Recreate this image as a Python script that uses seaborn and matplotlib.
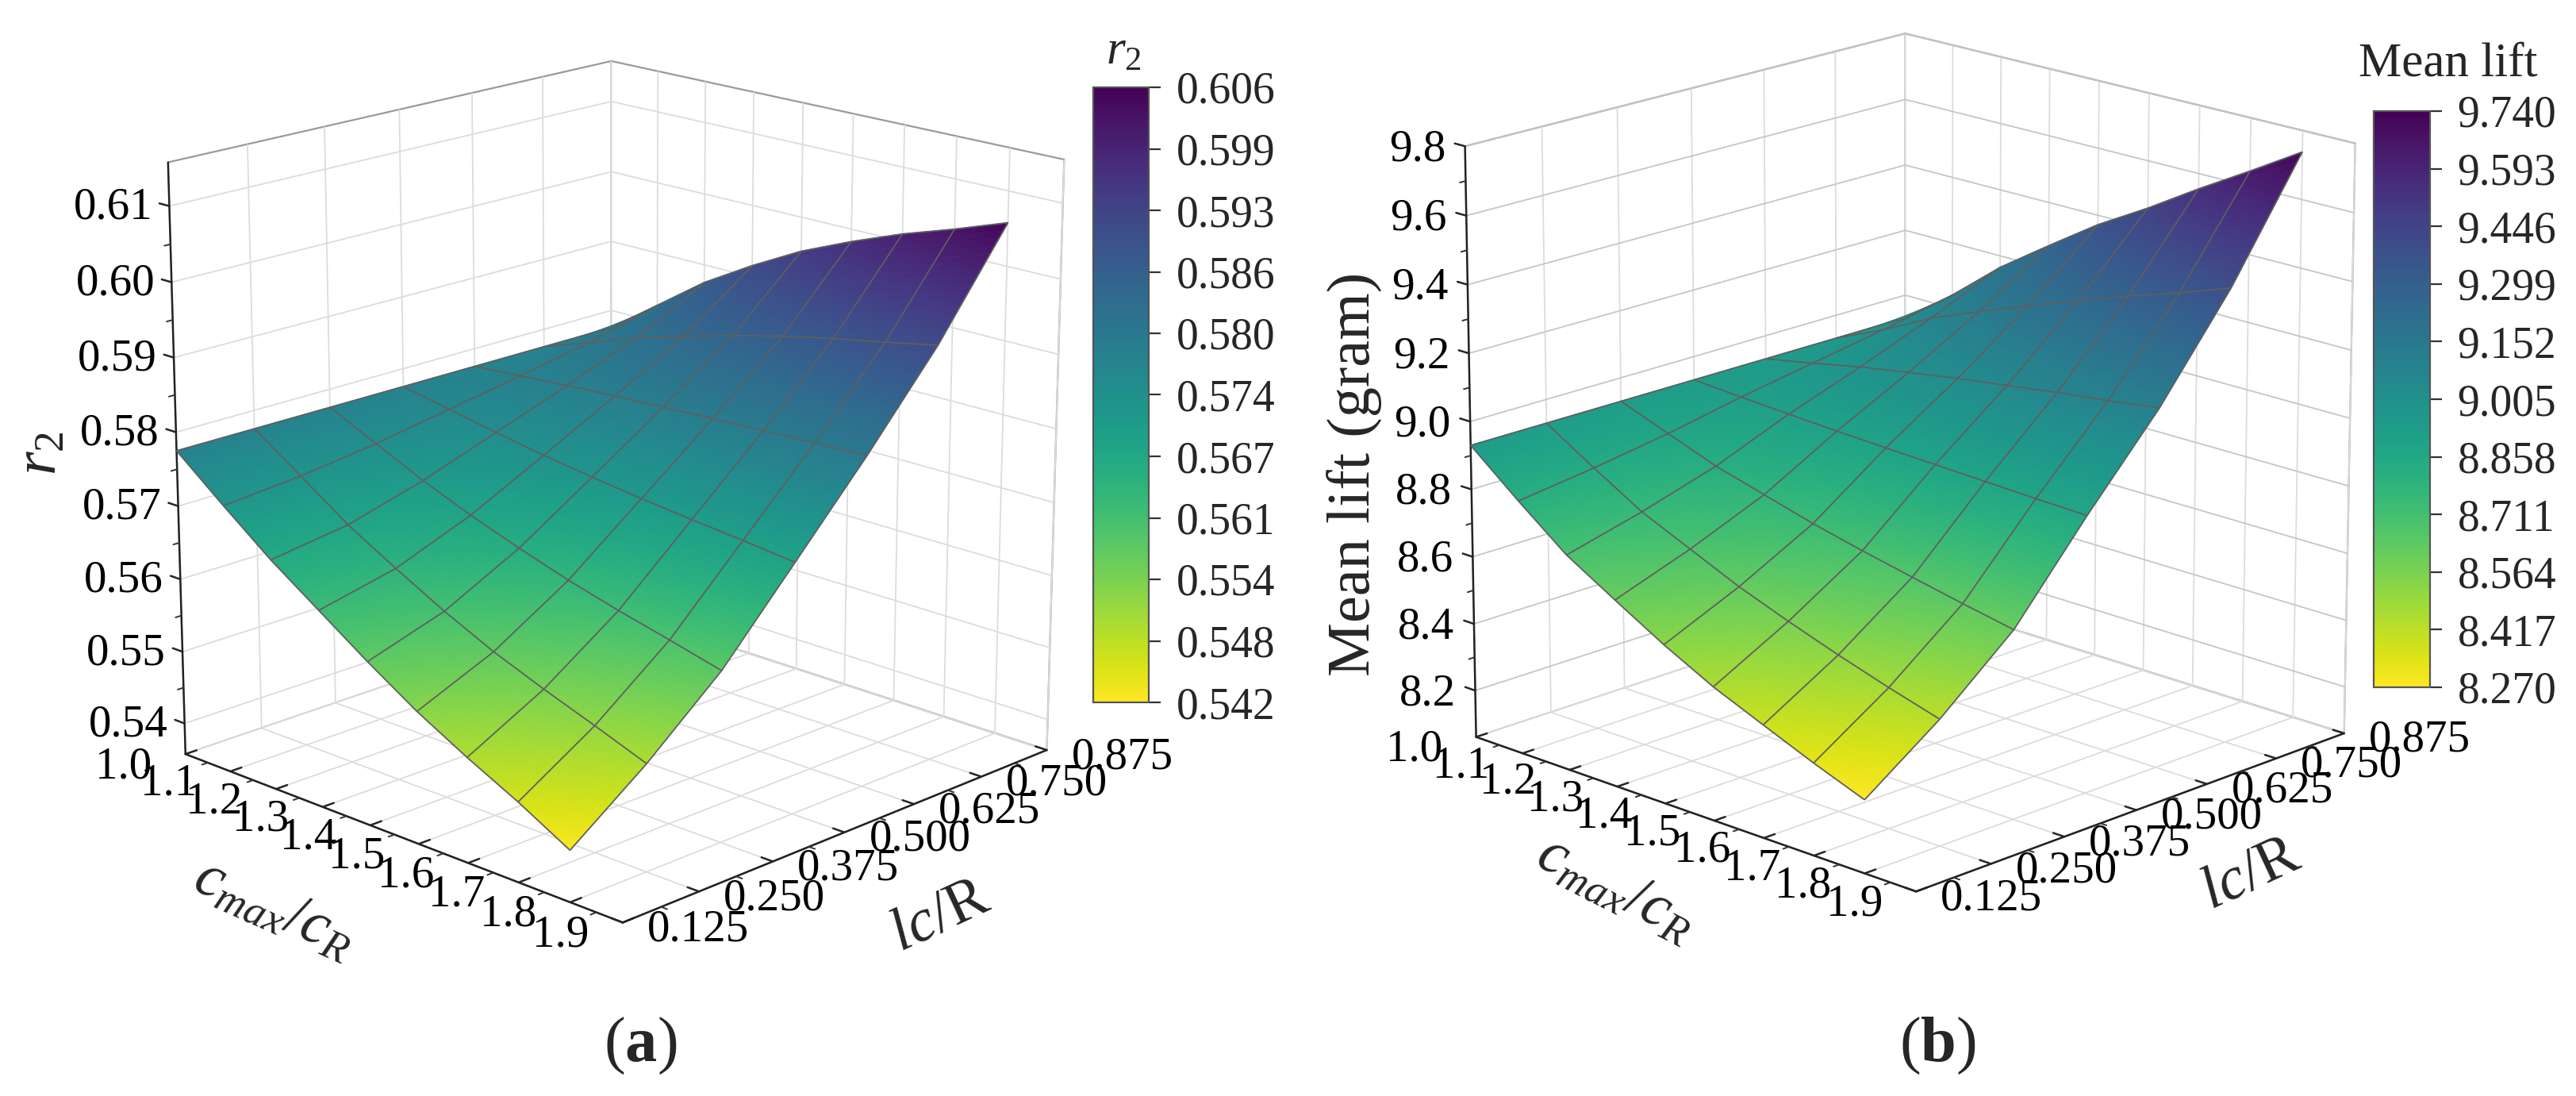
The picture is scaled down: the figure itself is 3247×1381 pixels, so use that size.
import numpy as np
import pandas as pd
import seaborn as sns
import matplotlib
matplotlib.use('Agg')
import matplotlib.pyplot as plt
from mpl_toolkits.mplot3d import proj3d

## DATA
cmax_ratio = [1.0, 1.1, 1.2, 1.3, 1.4, 1.5, 1.6, 1.7, 1.8]
lc_ratio = [0.125, 0.250, 0.375, 0.500, 0.625, 0.750, 0.875]

# r2, one list per lc/R
r2_lc1 = [0.5775, 0.5721, 0.5669, 0.5623, 0.5577, 0.5534, 0.5497, 0.5463, 0.5425]
r2_lc2 = [0.5775, 0.5730, 0.5684, 0.5646, 0.5610, 0.5578, 0.5551, 0.5526, 0.5500]
r2_lc3 = [0.5775, 0.5744, 0.5713, 0.5686, 0.5662, 0.5640, 0.5621, 0.5604, 0.5586]
r2_lc4 = [0.5775, 0.5762, 0.5749, 0.5737, 0.5727, 0.5718, 0.5710, 0.5703, 0.5695]
r2_lc5 = [0.5775, 0.5780, 0.5785, 0.5789, 0.5793, 0.5796, 0.5799, 0.5802, 0.5805]
r2_lc6 = [0.5775, 0.5799, 0.5824, 0.5844, 0.5863, 0.5880, 0.5895, 0.5908, 0.5922]
r2_lc7 = [0.5775, 0.5825, 0.5875, 0.5916, 0.5953, 0.5983, 0.6010, 0.6033, 0.6058]

# mean lift, one list per lc/R
lift_lc1 = [8.930, 8.810, 8.696, 8.610, 8.526, 8.451, 8.389, 8.328, 8.272]
lift_lc2 = [8.930, 8.840, 8.754, 8.689, 8.624, 8.569, 8.518, 8.471, 8.428]
lift_lc3 = [8.930, 8.876, 8.822, 8.781, 8.740, 8.705, 8.673, 8.642, 8.613]
lift_lc4 = [8.930, 8.920, 8.911, 8.903, 8.896, 8.890, 8.884, 8.878, 8.873]
lift_lc5 = [8.930, 8.958, 8.988, 9.013, 9.037, 9.058, 9.079, 9.097, 9.118]
lift_lc6 = [8.930, 8.996, 9.072, 9.133, 9.190, 9.245, 9.299, 9.349, 9.403]
lift_lc7 = [8.930, 9.040, 9.165, 9.270, 9.372, 9.460, 9.555, 9.645, 9.738]

# axis and colorbar labels
cmax_ticks = [1.0, 1.1, 1.2, 1.3, 1.4, 1.5, 1.6, 1.7, 1.8, 1.9]
lc_ticks = [0.125, 0.250, 0.375, 0.500, 0.625, 0.750, 0.875]
r2_ticks = [0.54, 0.55, 0.56, 0.57, 0.58, 0.59, 0.60, 0.61]
lift_ticks = [8.2, 8.4, 8.6, 8.8, 9.0, 9.2, 9.4, 9.6, 9.8]
r2_cbar = ['0.542', '0.548', '0.554', '0.561', '0.567', '0.574', '0.580', '0.586', '0.593', '0.599', '0.606']
lift_cbar = ['8.270', '8.417', '8.564', '8.711', '8.858', '9.005', '9.152', '9.299', '9.446', '9.593', '9.740']

## STYLE
sns.set_theme(style='white')
plt.rcParams['font.family'] = ['Liberation Serif', 'DejaVu Serif']
plt.rcParams['mathtext.fontset'] = 'custom'
plt.rcParams['mathtext.rm'] = 'Liberation Serif'
plt.rcParams['mathtext.it'] = 'Liberation Serif:italic'
plt.rcParams['mathtext.bf'] = 'Liberation Serif:bold'
cmap = sns.color_palette('viridis_r', as_cmap=True)

W, H = 3247, 1381
fig = plt.figure(figsize=(W / 100, H / 100), dpi=100, facecolor='white')


def rect(x0, y0, x1, y1):
    # pixel box (top-left origin) to figure fractions
    return [x0 / W, 1 - y1 / H, (x1 - x0) / W, (y1 - y0) / H]


def shading_grid(values, n=16):
    # finer grid for the colour gradient only, the mesh lines stay on the read values
    old = np.arange(len(values))
    new = np.linspace(0, len(values) - 1, (len(values) - 1) * n + 1)
    return np.interp(new, old, values)


def midpoints(ticks):
    ticks = np.asarray(ticks)
    return (ticks[:-1] + ticks[1:]) / 2


def tick_text(ax, xyz, text, offset, size=41):
    # tick label placed from the 3d position, offset in pixels
    px, py, _ = proj3d.proj_transform(*xyz, ax.get_proj())
    ax.annotate(text, xy=(px, py), xytext=offset, textcoords='offset pixels',
                ha='center', va='center', fontsize=size, annotation_clip=False, color='black')


def draw_panel(center, view, rows, zlim, zticks, zfmt, z_off, zgrid, cbar_labels, cbar_box, cbar_title, title_xy,
               zlabel, zlabel_xy, xlabel_xy, ylabel_xy, xlabel_rot, panel, panel_xy):
    cx, cy = center
    size = 1150
    elev, azim, focal, zasp, zoom = view
    ax = fig.add_axes(rect(cx - size / 2, cy - size / 2, cx + size / 2, cy + size / 2),
                      projection='3d', computed_zorder=False)
    ax.patch.set_alpha(0)
    ax.view_init(elev=elev, azim=azim)
    ax.set_proj_type('persp', focal_length=focal)
    ax.set_box_aspect((1, 1, zasp), zoom=zoom)

    df = pd.DataFrame(rows, index=lc_ratio, columns=cmax_ratio)
    Z = df.to_numpy()
    X, Y = np.meshgrid(df.columns.to_numpy(), df.index.to_numpy())
    vmin, vmax = float(cbar_labels[0]), float(cbar_labels[-1])
    norm = plt.Normalize(vmin, vmax)

    # smooth fill
    cols = np.array([shading_grid(r) for r in Z])
    Zf = np.array([shading_grid(c) for c in cols.T]).T
    Xf, Yf = np.meshgrid(shading_grid(cmax_ratio), shading_grid(lc_ratio))
    ax.plot_surface(Xf, Yf, Zf, rstride=1, cstride=1, facecolors=cmap(norm(Zf)),
                    linewidth=0.6, antialiased=True, shade=False, zorder=3)
    ax.plot_wireframe(X, Y, Z, rstride=1, cstride=1, color='#5f5f5f', linewidth=1.3, zorder=4)

    xmin, xmax, ymin, ymax = 1.0, 1.9, 0.125, 0.875
    ax.set_xlim(xmin, xmax)
    ax.set_ylim(ymin, ymax)
    ax.set_zlim(*zlim)
    ax.set_xticks(cmax_ticks)
    ax.set_yticks(lc_ticks)
    ax.set_zticks(zticks)
    ax.set_xticklabels([])
    ax.set_yticklabels([])
    ax.set_zticklabels([])
    ax.zaxis._axinfo['juggled'] = (1, 2, 0)

    for axis in (ax.xaxis, ax.yaxis, ax.zaxis):
        axis.set_pane_color((1, 1, 1, 1))
        axis.pane.set_edgecolor('#9a9a9a')
        axis.pane.set_linewidth(1.6)
        axis.line.set_color('#222222')
        axis.line.set_linewidth(1.8)
        axis._axinfo['grid']['color'] = '#dcdcdc'
        axis._axinfo['grid']['linewidth'] = 1.3
        axis._axinfo['tick']['linewidth'] = {True: 1.8, False: 1.2}
        axis._axinfo['tick']['outward_factor'] = 0.3
        axis._axinfo['tick']['inward_factor'] = 0.0
    ax.zaxis._axinfo['grid']['color'] = zgrid

    # tick labels
    for t in cmax_ticks:
        tick_text(ax, (t, ymin, zlim[0]), '%.1f' % t, (-78, -16))
    for t in lc_ticks:
        tick_text(ax, (xmax, t, zlim[0]), '%.3f' % t, (95, -9))
    for t in zticks:
        tick_text(ax, (xmin, ymin, t), zfmt % t, z_off)

    # minor ticks
    ylen, xlen = 0.0125 * (ymax - ymin), 0.0125 * (xmax - xmin)
    for t in midpoints(cmax_ticks):
        ax.plot([t, t], [ymin, ymin - ylen], [zlim[0], zlim[0]], color='#333333', lw=1.4, zorder=2)
    for t in midpoints(lc_ticks):
        ax.plot([xmax, xmax + xlen], [t, t], [zlim[0], zlim[0]], color='#333333', lw=1.4, zorder=2)
    for t in midpoints(zticks):
        ax.plot([xmin, xmin], [ymin, ymin - ylen], [t, t], color='#333333', lw=1.4, zorder=2)

    # colorbar
    cax = fig.add_axes(rect(*cbar_box))
    sm = plt.cm.ScalarMappable(norm=norm, cmap=cmap)
    cb = fig.colorbar(sm, cax=cax)
    cb.set_ticks(np.linspace(vmin, vmax, len(cbar_labels)))
    cb.set_ticklabels(cbar_labels)
    cb.ax.tick_params(labelsize=40, length=11, width=1.6, color='#333333', pad=14)
    cb.outline.set_edgecolor('#555555')
    cb.outline.set_linewidth(1.6)

    # titles and axis labels
    fig.text(title_xy[0] / W, 1 - title_xy[1] / H, cbar_title, fontsize=44, ha='center', va='center')
    fig.text(zlabel_xy[0] / W, 1 - zlabel_xy[1] / H, zlabel, fontsize=55, rotation=90, ha='center', va='center')
    fig.text(xlabel_xy[0] / W, 1 - xlabel_xy[1] / H, r'$c_{max}/c_R$', fontsize=55, rotation=xlabel_rot,
             ha='center', va='center')
    fig.text(ylabel_xy[0] / W, 1 - ylabel_xy[1] / H, r'$lc/\mathrm{R}$', fontsize=55, rotation=25,
             ha='center', va='center')
    fig.text(panel_xy[0] / W, 1 - panel_xy[1] / H, panel, fontsize=58, ha='center', va='center')
    return ax


ax1 = draw_panel((761.7, 598.1), (17.656, -45.744, 0.962, 0.998, 1.144),
                 [r2_lc1, r2_lc2, r2_lc3, r2_lc4, r2_lc5, r2_lc6, r2_lc7],
                 (0.5357, 0.6157), r2_ticks, '%.2f', (-71, -2), '#dcdcdc', r2_cbar, (1378, 110, 1448, 885),
                 r'$r_2$', (1416, 66), r'$r_2$', (52, 571), (345, 1146), (1185, 1155), -24,
                 r'$(\mathbf{a})$', (807, 1318))

ax2 = draw_panel((2392.5, 574.6), (17.609, -45.712, 1.503, 0.996, 1.144),
                 [lift_lc1, lift_lc2, lift_lc3, lift_lc4, lift_lc5, lift_lc6, lift_lc7],
                 (8.06, 9.8), lift_ticks, '%.1f', (-60, -4), '#c6c6c6', lift_cbar, (2992, 140, 3063, 866),
                 'Mean lift', (3086, 81), 'Mean lift (gram)', (1708, 597), (2036, 1120), (2837, 1102), -27,
                 r'$(\mathbf{b})$', (2442, 1318))

fig.savefig('out.png', dpi=100)
